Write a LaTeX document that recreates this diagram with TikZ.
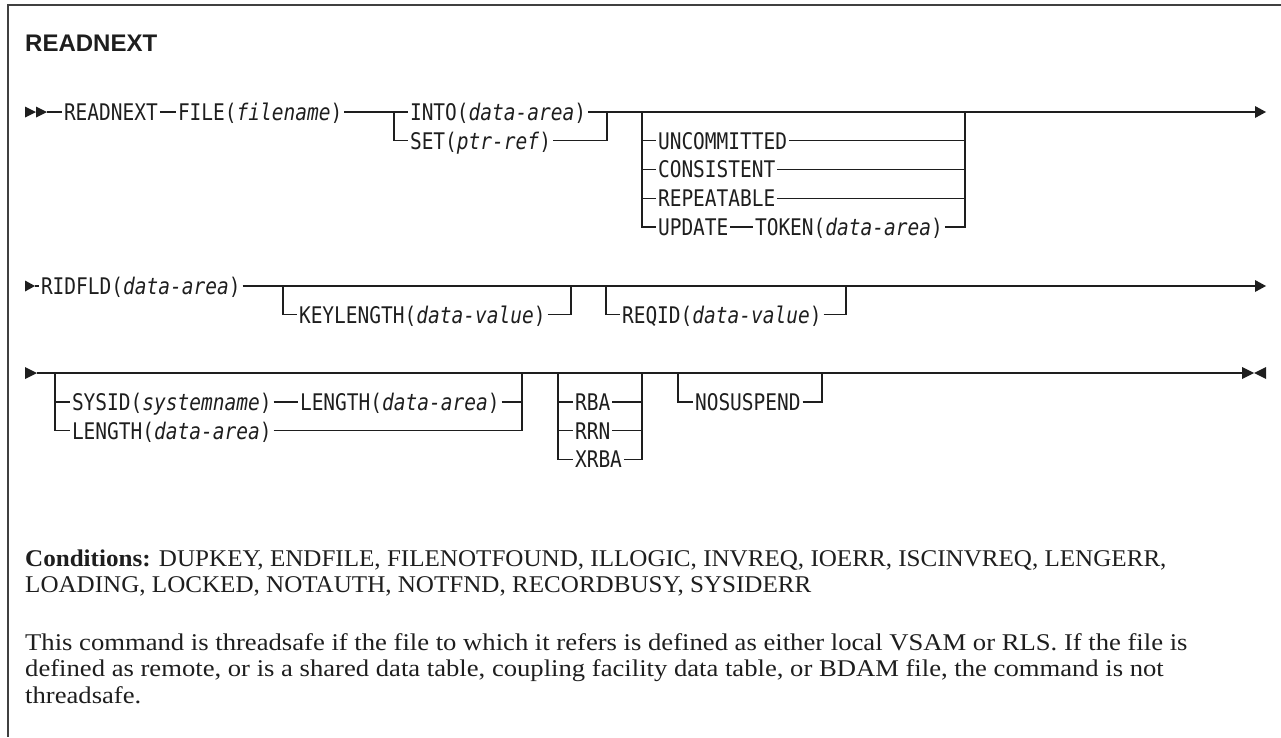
\documentclass[tikz,border=0pt]{standalone}
\usepackage{fontspec}
\setmainfont{Liberation Serif}
\newfontfamily\condfont[FakeStretch=1.045]{Liberation Serif}
\newfontfamily\parafont[FakeStretch=1.11]{Liberation Serif}
\newfontfamily\titlefont{Liberation Sans}
\newfontfamily\synfont[FakeStretch=0.852]{DejaVu Sans Mono}
\newcommand{\synvar}[1]{\textit{#1}}
\definecolor{inkc}{HTML}{1E1E1E}
\tikzset{
  syn/.style={font=\synfont\fontsize{22.9}{24}\selectfont, inner sep=0pt, outer sep=2pt, anchor=west, text height=19pt, text depth=2.3pt, text=inkc},
  ln/.style={line width=1.3pt, draw=inkc},
  tipc/.style={fill=inkc},
  frame/.style={line width=1.5pt, draw=black!75},
  condtext/.style={font=\condfont\fontsize{24}{26}\selectfont, inner sep=0pt, anchor=base west, text=inkc},
  paratext/.style={font=\parafont\fontsize{24}{26}\selectfont, inner sep=0pt, anchor=base west, text=inkc},
  ttl/.style={font=\titlefont\bfseries\fontsize{24}{26}\selectfont, inner sep=0pt, anchor=base west, text=inkc},
}
\begin{document}
\begin{tikzpicture}[x=1pt,y=-1pt]
\useasboundingbox (0,0) rectangle (1281,737);
\draw[frame] (1281,5) -- (8,5) -- (8,737);
\node[ttl] (title) at (25,51) {READNEXT};

% ---------------- row 1 ----------------
\fill[tipc] (25,106.5) -- (36,112) -- (25,117.5) -- cycle;
\fill[tipc] (36,106.5) -- (47,112) -- (36,117.5) -- cycle;
\coordinate (s1) at (47,112);
\node[syn] (readnext) at (62,112) {READNEXT};
\node[syn] (file) at (176,112) {FILE(\synvar{filename})};
\coordinate (b1) at (394,112);
\node[syn] (into) at (408,112) {INTO(\synvar{data-area})};
\node[syn] (set) at (408,140.75) {SET(\synvar{ptr-ref})};
\coordinate (j1) at (607,112);
\coordinate (b2) at (642,112);
\node[syn] (uncom) at (656,140.75) {UNCOMMITTED};
\node[syn] (consis) at (656,169.5) {CONSISTENT};
\node[syn] (repeat) at (656,198.25) {REPEATABLE};
\node[syn] (update) at (656,227) {UPDATE};
\node[syn] (token) at (753,227) {TOKEN(\synvar{data-area})};
\coordinate (j2) at (965,112);
\coordinate (e1) at (1255,112);
\fill[tipc] (1255,106) -- (1266,112) -- (1255,118) -- cycle;

\draw[ln] (s1) -- (readnext);
\draw[ln] (readnext) -- (file);
\draw[ln] (file) -- (b1) -- (into);
\draw[ln] (b1) |- (set);
\draw[ln] (into) -- (j1) -- (b2) -- (j2) -- (e1);
\draw[ln] (set) -| (j1);
\draw[ln] (b2) |- (uncom);
\draw[ln] (b2) |- (consis);
\draw[ln] (b2) |- (repeat);
\draw[ln] (b2) |- (update);
\draw[ln] (update) -- (token);
\draw[ln] (uncom) -| (j2);
\draw[ln] (consis) -| (j2);
\draw[ln] (repeat) -| (j2);
\draw[ln] (token) -| (j2);

% ---------------- row 2 ----------------
\fill[tipc] (25,280.5) -- (35,286) -- (25,291.5) -- cycle;
\coordinate (s2) at (35,286);
\node[syn] (ridfld) at (39,286) {RIDFLD(\synvar{data-area})};
\coordinate (b3) at (283,286);
\node[syn] (keylen) at (297,314.75) {KEYLENGTH(\synvar{data-value})};
\coordinate (j3) at (571,286);
\coordinate (b4) at (606,286);
\node[syn] (reqid) at (620,314.75) {REQID(\synvar{data-value})};
\coordinate (j4) at (846,286);
\coordinate (e2) at (1255,286);
\fill[tipc] (1255,280) -- (1266,286) -- (1255,292) -- cycle;

\draw[ln] (s2) -- (ridfld);
\draw[ln] (ridfld) -- (b3) -- (j3) -- (b4) -- (j4) -- (e2);
\draw[ln] (b3) |- (keylen);
\draw[ln] (keylen) -| (j3);
\draw[ln] (b4) |- (reqid);
\draw[ln] (reqid) -| (j4);

% ---------------- row 3 ----------------
\fill[tipc] (25,367) -- (37,373) -- (25,379) -- cycle;
\coordinate (s3) at (37,373);
\coordinate (b5) at (55,373);
\node[syn] (sysid) at (70,402) {SYSID(\synvar{systemname})};
\node[syn] (len1) at (298,402) {LENGTH(\synvar{data-area})};
\node[syn] (len2) at (70,430.75) {LENGTH(\synvar{data-area})};
\coordinate (j5) at (522,373);
\coordinate (b6) at (558,373);
\node[syn] (rba) at (573,402) {RBA};
\node[syn] (rrn) at (573,430.75) {RRN};
\node[syn] (xrba) at (573,459.5) {XRBA};
\coordinate (j6) at (642,373);
\coordinate (b7) at (678,373);
\node[syn] (nosusp) at (693,402) {NOSUSPEND};
\coordinate (j7) at (822,373);
\coordinate (t1) at (827,373);
\coordinate (t2) at (851,373);
\coordinate (e3) at (1242,373);
\fill[tipc] (1242,367) -- (1254,373) -- (1242,379) -- cycle;
\fill[tipc] (1266,367) -- (1254,373) -- (1266,379) -- cycle;

\draw[ln] (s3) -- (b5) -- (j5) -- (b6) -- (j6) -- (b7) -- (j7) -- (e3);
\draw[ln, line width=2.4pt] (t1) -- (t2);
\draw[ln] (b5) |- (sysid);
\draw[ln] (sysid) -- (len1);
\draw[ln] (len1) -| (j5);
\draw[ln] (b5) |- (len2);
\draw[ln] (len2) -| (j5);
\draw[ln] (b6) |- (rba);
\draw[ln] (b6) |- (rrn);
\draw[ln] (b6) |- (xrba);
\draw[ln] (rba) -| (j6);
\draw[ln] (rrn) -| (j6);
\draw[ln] (xrba) -| (j6);
\draw[ln] (b7) |- (nosusp);
\draw[ln] (nosusp) -| (j7);

% ---------------- text ----------------
\node[condtext] (cond1) at (25,566) {\textbf{Conditions:} DUPKEY, ENDFILE, FILENOTFOUND, ILLOGIC, INVREQ, IOERR, ISCINVREQ, LENGERR,};
\node[condtext] (cond2) at (25,592.5) {LOADING, LOCKED, NOTAUTH, NOTFND, RECORDBUSY, SYSIDERR};
\node[paratext] (para1) at (25,650) {This command is threadsafe if the file to which it refers is defined as either local VSAM or RLS. If the file is};
\node[paratext] (para2) at (25,676.5) {defined as remote, or is a shared data table, coupling facility data table, or BDAM file, the command is not};
\node[paratext] (para3) at (25,703) {threadsafe.};
\end{tikzpicture}
\end{document}
